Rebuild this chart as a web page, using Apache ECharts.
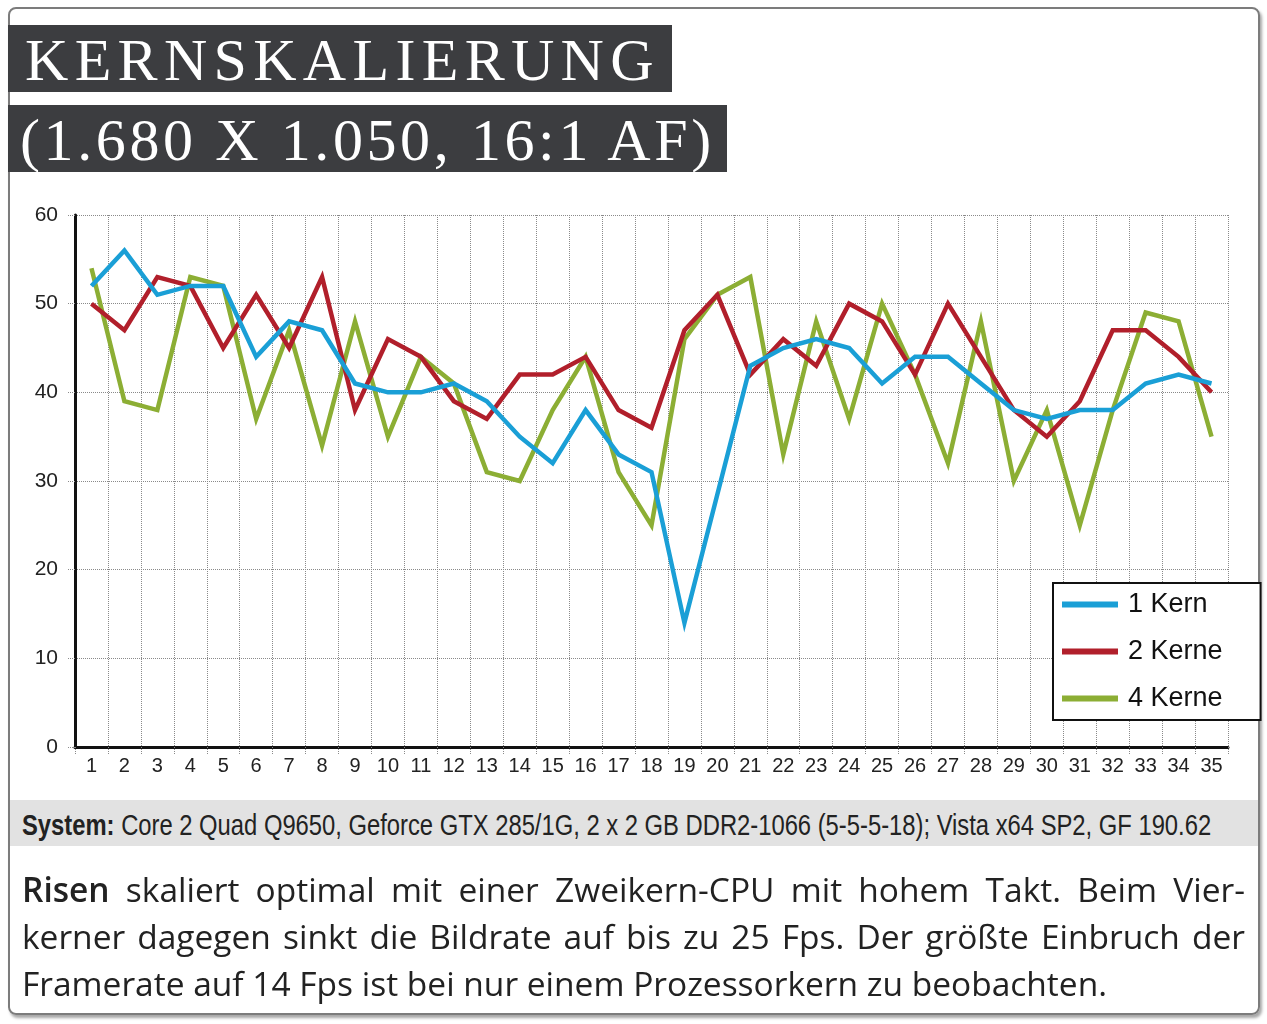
<!DOCTYPE html>
<html>
<head>
<meta charset="utf-8">
<script src="https://cdn.jsdelivr.net/npm/echarts@6/dist/echarts.min.js"></script>
<style>
  html, body { margin: 0; padding: 0; background: #fff; }
  body { width: 1267px; height: 1024px; position: relative; overflow: hidden; }
  /* Rahmen */
  .frame {
    position: absolute; left: 8px; top: 7px; width: 1252px; height: 1008px;
    box-sizing: border-box; border: 2px solid #7c7c7c; border-radius: 8px;
    box-shadow: 2px 3px 3px rgba(0,0,0,0.35);
  }
  .title {
    position: absolute; left: 8px; height: 67px; background: #3c3d40;
    color: #fff; font-family: 'Liberation Serif', serif; font-size: 60px;
    line-height: 70px; padding-left: 17px; box-sizing: border-box;
    white-space: nowrap; overflow: hidden; z-index: 2;
  }
  .t1 { top: 25px; width: 664px; letter-spacing: 6.3px; }
  .t2 { top: 105px; width: 719px; letter-spacing: 3.6px; padding-left: 12px; }
  .system {
    position: absolute; left: 10px; top: 800px; width: 1248px; height: 46px;
    background: #e2e2e2; z-index: 2; overflow: hidden;
  }
  .system span {
    position: absolute; left: 12px; top: 0; display: block;
    font-family: 'Liberation Sans', sans-serif; font-size: 29px; line-height: 50px;
    color: #222; white-space: nowrap; transform: scaleX(0.82); transform-origin: 0 0;
  }
  .text {
    position: absolute; left: 22px; top: 866px; width: 1223px;
    font-family: 'Open Sans', sans-serif; font-size: 33.5px; line-height: 47px;
    color: #222; z-index: 2;
  }
  .text div { text-align: justify; text-align-last: justify; white-space: nowrap; }
  .text div.last { text-align-last: left; }
  .text b { font-weight: 600; }
  #chart { position: absolute; left: 0; top: 0; width: 1267px; height: 1024px; z-index: 1; }
</style>
</head>
<body>
<div class="frame"></div>
<div class="title t1">KERNSKALIERUNG</div>
<div class="title t2">(1.680 X 1.050, 16:1 AF)</div>
<div id="chart"></div>
<div class="system"><span><b>System:</b> Core 2 Quad Q9650, Geforce GTX 285/1G, 2 x 2 GB DDR2-1066 (5-5-5-18); Vista x64 SP2, GF 190.62</span></div>
<div class="text">
  <div><b>Risen</b> skaliert optimal mit einer Zweikern-CPU mit hohem Takt. Beim Vier-</div>
  <div>kerner dagegen sinkt die Bildrate auf bis zu 25 Fps. Der größte Einbruch der</div>
  <div class="last">Framerate auf 14 Fps ist bei nur einem Prozessorkern zu beobachten.</div>
</div>
<script>
  // Messpunkte 1..35
  const points = Array.from({ length: 35 }, (_, i) => String(i + 1))

  const seriesNames = ['1 Kern', '2 Kerne', '4 Kerne']
  const seriesColors = ['#1a9fd6', '#b11f2b', '#8cae34']

  // Fps-Werte
  const kern1 = [52, 56, 51, 52, 52, 44, 48, 47, 41, 40, 40, 41, 39, 35, 32, 38, 33, 31, 14, 28.5,
                 43, 45, 46, 45, 41, 44, 44, 41, 38, 37, 38, 38, 41, 42, 41]
  const kern2 = [50, 47, 53, 52, 45, 51, 45, 53, 38, 46, 44, 39, 37, 42, 42, 44, 38, 36, 47, 51,
                 42, 46, 43, 50, 48, 42, 50, 44, 38, 35, 39, 47, 47, 44, 40]
  const kern4 = [54, 39, 38, 53, 52, 37, 47, 34, 48, 35, 44, 41, 31, 30, 38, 44, 31, 25, 46, 51,
                 53, 33, 48, 37, 50, 42, 32, 48, 30, 38, 25, 38, 49, 48, 35]

  const narrow = "'Liberation Sans', Arial, sans-serif"
  const dotted = { type: 'dotted', color: '#8a8a8a', width: 1 }

  const chart = echarts.init(document.getElementById('chart'))
  const values = [kern1, kern2, kern4]

  chart.setOption({
    backgroundColor: 'transparent',
    animation: false,
    grid: { left: 75, right: 39, top: 215, bottom: 277 },
    legend: {
      data: seriesNames,
      orient: 'vertical',
      left: 1053,
      top: 583,
      backgroundColor: '#fff',
      borderColor: '#111',
      borderWidth: 2,
      borderRadius: 0,
      padding: [8, 38, 8, 9],
      itemWidth: 56,
      itemHeight: 6,
      itemGap: 20,
      icon: 'rect',
      textStyle: { fontFamily: narrow, fontSize: 27, color: '#111', padding: [0, 0, 0, 5] }
    },
    xAxis: {
      type: 'category',
      data: points,
      boundaryGap: true,
      axisLine: { lineStyle: { color: '#111', width: 3 } },
      axisTick: { show: true, length: 7, interval: 0, lineStyle: dotted },
      axisLabel: { interval: 0, margin: 9, fontFamily: narrow, fontSize: 20, color: '#222' },
      splitLine: { show: true, interval: 0, lineStyle: dotted }
    },
    yAxis: {
      type: 'value',
      min: 0,
      max: 60,
      interval: 10,
      axisLine: { show: true, lineStyle: { color: '#111', width: 3 } },
      axisTick: { show: true, length: 7, lineStyle: dotted },
      axisLabel: { margin: 17, fontFamily: narrow, fontSize: 21, color: '#222' },
      splitLine: { show: true, lineStyle: dotted }
    },
    series: seriesNames.map((name, i) => ({
      name,
      type: 'line',
      data: values[i],
      showSymbol: false,
      symbol: 'none',
      z: 5 - i,
      color: seriesColors[i],
      lineStyle: { color: seriesColors[i], width: 4.5, join: 'miter' }
    }))
  })
</script>
</body>
</html>
